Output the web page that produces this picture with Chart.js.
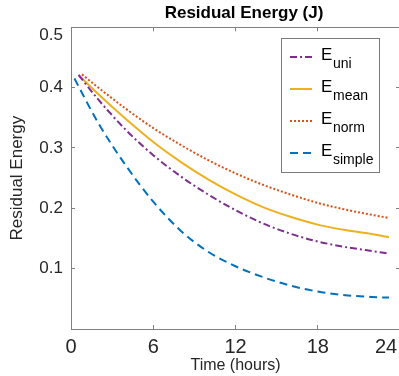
<!DOCTYPE html>
<html>
<head>
<meta charset="utf-8">
<script src="https://cdn.jsdelivr.net/npm/chart.js@4"></script>
<style>
  html, body { margin: 0; padding: 0; overflow: hidden; background: #fff; }
  canvas { display: block; }
</style>
</head>
<body>
<canvas id="chart" width="445" height="376"></canvas>
<script>
// values
const xTicks = [0, 6, 12, 18, 24];
const yTicks = [0, 0.1, 0.2, 0.3, 0.4, 0.5];

const hoursUni = [0.55, 2, 4, 6, 8, 10, 12, 14, 16, 18, 20, 22, 23.2];
const energyUni = [0.421, 0.380, 0.330, 0.288, 0.253, 0.223, 0.197, 0.175, 0.158, 0.145, 0.136, 0.129, 0.125];

const hoursMean = [0.55, 2, 4, 6, 8, 10, 12, 14, 16, 18, 20, 22, 23.2];
const energyMean = [0.421, 0.389, 0.348, 0.310, 0.277, 0.248, 0.223, 0.202, 0.186, 0.173, 0.164, 0.157, 0.152];

const hoursNorm = [0.8, 2, 4, 6, 8, 10, 12, 14, 16, 18, 20, 22, 23.2];
const energyNorm = [0.422, 0.400, 0.365, 0.333, 0.305, 0.280, 0.258, 0.239, 0.223, 0.209, 0.198, 0.189, 0.184];

const hoursSimple = [0.25, 2, 4, 6, 8, 10, 12, 14, 16, 18, 20, 22, 23.2];
const energySimple = [0.415, 0.341, 0.271, 0.211, 0.163, 0.128, 0.104, 0.086, 0.072, 0.062, 0.056, 0.053, 0.052];

const seriesNames = ['uni', 'mean', 'norm', 'simple'];

const FONT = '"Liberation Sans", Arial, sans-serif';
const AXIS = '#808080';
const TEXT = '#262626';

const toPoints = (xs, ys) => xs.map((x, i) => ({ x: x, y: ys[i] }));

// draws the title and the legend box with subscripted names
const extras = {
  id: 'extras',
  afterDraw(chart) {
    const ctx = chart.ctx;
    ctx.save();
    ctx.fillStyle = '#000';
    ctx.font = 'bold 17px ' + FONT;
    ctx.textAlign = 'center';
    ctx.textBaseline = 'middle';
    ctx.fillText('Residual Energy (J)', 244, 13);

    // legend box
    ctx.fillStyle = '#fff';
    ctx.fillRect(281, 38, 98, 134);
    ctx.strokeStyle = '#7a7a7a';
    ctx.lineWidth = 1;
    ctx.strokeRect(281.5, 38.5, 98, 134);

    chart.data.datasets.forEach((ds, i) => {
      const y = 57 + i * 32;
      ctx.strokeStyle = ds.borderColor;
      ctx.lineWidth = 2;
      ctx.setLineDash(ds.borderDash || []);
      ctx.beginPath();
      ctx.moveTo(290, y);
      ctx.lineTo(312, y);
      ctx.stroke();
      ctx.setLineDash([]);

      ctx.fillStyle = '#000';
      ctx.textAlign = 'left';
      ctx.textBaseline = 'alphabetic';
      ctx.font = '17px ' + FONT;
      ctx.fillText('E', 321, y + 3);
      ctx.font = '14px ' + FONT;
      ctx.fillText(seriesNames[i], 333, y + 11);
    });
    ctx.restore();
  }
};

const common = {
  grid: { drawOnChartArea: false, drawTicks: true, tickLength: -4, color: AXIS },
  border: { color: AXIS, width: 1 },
};

new Chart(document.getElementById('chart'), {
  type: 'line',
  data: {
    datasets: [
      {
        label: 'E uni',
        data: toPoints(hoursUni, energyUni),
        borderColor: '#7E2F8E',
        borderDash: [7, 3, 2, 3],
      },
      {
        label: 'E mean',
        data: toPoints(hoursMean, energyMean),
        borderColor: '#EDB120',
        borderDash: [],
      },
      {
        label: 'E norm',
        data: toPoints(hoursNorm, energyNorm),
        borderColor: '#D95319',
        borderDash: [2, 2],
      },
      {
        label: 'E simple',
        data: toPoints(hoursSimple, energySimple),
        borderColor: '#0072BD',
        borderDash: [8, 5],
      },
    ],
  },
  options: {
    responsive: false,
    animation: false,
    layout: { padding: 0 },
    elements: {
      line: { borderWidth: 2, cubicInterpolationMode: 'monotone', fill: false },
      point: { radius: 0 },
    },
    plugins: {
      legend: { display: false },
      title: { display: false },
      tooltip: { enabled: false },
    },
    scales: {
      x: {
        type: 'linear',
        position: 'bottom',
        min: 0,
        max: 24,
        afterBuildTicks: (s) => { s.ticks = xTicks.map((v) => ({ value: v })); },
        ticks: {
          color: TEXT,
          padding: 10,
          maxRotation: 0,
          font: { family: FONT, size: 20 },
          // last label sits a little left of its tick in the reference
          callback: (v) => (v === 24 ? '24     ' : String(v)),
        },
        title: {
          display: true,
          text: 'Time (hours)',
          color: TEXT,
          padding: { top: 0, bottom: 1 },
          font: { family: FONT, size: 16 },
        },
        afterFit: (s) => { s.height = 47; },
        ...common,
      },
      xTop: {
        type: 'linear',
        position: 'top',
        min: 0,
        max: 24,
        afterBuildTicks: (s) => { s.ticks = xTicks.map((v) => ({ value: v })); },
        ticks: { display: false },
        afterFit: (s) => { s.height = 26; },
        ...common,
      },
      y: {
        type: 'linear',
        position: 'left',
        min: 0,
        max: 0.5,
        afterBuildTicks: (s) => { s.ticks = yTicks.map((v) => ({ value: v })); },
        ticks: {
          color: TEXT,
          padding: 12,
          font: (c) => ({ family: FONT, size: 17, lineHeight: c.tick && c.tick.value === 0.5 ? 0.9 : 1.2 }),
          // top label is drawn a bit below the top edge in the reference
          callback: (v) => (v === 0 ? '' : v === 0.5 ? ['', '0.5'] : v.toFixed(1)),
        },
        title: {
          display: true,
          text: 'Residual Energy',
          color: TEXT,
          padding: { top: 7, bottom: 0 },
          font: { family: FONT, size: 17 },
        },
        afterFit: (s) => { s.width = 71; },
        ...common,
      },
      yRight: {
        type: 'linear',
        position: 'right',
        min: 0,
        max: 0.5,
        afterBuildTicks: (s) => { s.ticks = yTicks.map((v) => ({ value: v })); },
        ticks: { display: false },
        afterFit: (s) => { s.width = 45; },
        ...common,
      },
    },
  },
  plugins: [extras],
});
</script>
</body>
</html>
